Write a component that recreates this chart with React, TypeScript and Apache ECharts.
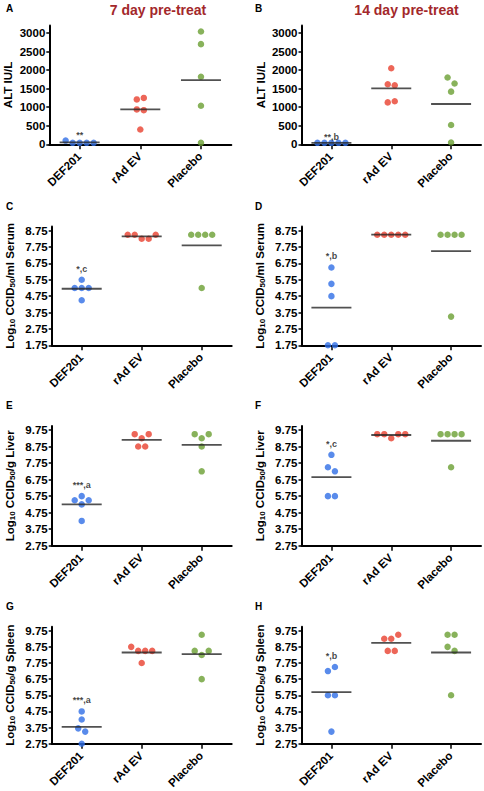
import React, { useEffect, useRef } from "react";
import * as echarts from "echarts";

const categories = ["DEF201", "rAd EV", "Placebo"];
const panelLetters = ["A", "B", "C", "D", "E", "F", "G", "H"];
const columnTitles = ["7 day pre-treat", "14 day pre-treat"];
const annotations = ["**", "**,b", "*,c", "*,b", "***,a", "*,c", "***,a", "*,b"];

const altTicks = [0, 500, 1000, 1500, 2000, 2500, 3000];
const serumTicks = [1.75, 2.75, 3.75, 4.75, 5.75, 6.75, 7.75, 8.75];
const organTicks = [2.75, 3.75, 4.75, 5.75, 6.75, 7.75, 8.75, 9.75];

// values per group: [DEF201, rAd EV, Placebo]
const altDay7 = [[100, 40, 40, 40, 40], [1210, 1250, 940, 920, 400], [3040, 2700, 1820, 1040, 40]];
const altDay14 = [[40, 40, 40, 40, 40], [2050, 1620, 1590, 1130, 1160], [1800, 1640, 1420, 520, 50]];
const serumDay7 = [[5.75, 5.25, 5.25, 5.25, 4.5], [8.5, 8.5, 8.25, 8.25, 8.5], [8.5, 8.5, 8.5, 8.5, 5.25]];
const serumDay14 = [[6.5, 5.5, 4.75, 1.75, 1.75], [8.5, 8.5, 8.5, 8.5, 8.5], [8.5, 8.5, 8.5, 8.5, 3.5]];
const liverDay7 = [[5.5, 5.75, 5.5, 5.25, 4.25], [9.5, 9.25, 9.5, 8.75, 8.75], [9.5, 9.25, 9.5, 8.75, 7.25]];
const liverDay14 = [[8.25, 7.5, 7.25, 5.75, 5.75], [9.5, 9.5, 9.25, 9.5, 9.5], [9.5, 9.5, 9.5, 9.5, 7.5]];
const spleenDay7 = [[4.75, 4.25, 3.7, 3.5, 2.75], [8.75, 8.5, 8.5, 8.5, 7.75], [9.5, 8.5, 8.25, 8.5, 6.75]];
const spleenDay14 = [[7.25, 7.5, 5.75, 5.75, 3.5], [9.25, 9.25, 9.5, 8.5, 8.5], [9.5, 9.5, 8.75, 8.5, 5.75]];

const groupColors = ["#2f6ee6", "#e8402e", "#6a9f32"];
const FONT = "'Liberation Sans', Arial, Helvetica, sans-serif";

const serumName = "{n|Log}{s|10}{n| CCID}{s|50}{n|/ml Serum}";
const liverName = "{n|Log}{s|10}{n| CCID}{s|50}{n|/g Liver}";
const spleenName = "{n|Log}{s|10}{n| CCID}{s|50}{n|/g Spleen}";
const altName = "{n|ALT IU/L}";

const colLeft = [51.7, 301.5];
const colWidth = [180, 179.5];
const rowTop = [25.6, 226.5, 425.9, 626.7];
const rowHeight = [118.7, 118.8, 119.8, 117];

const panels = [
  { data: altDay7, ticks: altTicks, min: 0, max: 3200, name: altName, gap: 34, dec: 0, annDist: 1, left: 49.3, width: 182 },
  { data: altDay14, ticks: altTicks, min: 0, max: 3200, name: altName, gap: 34, dec: 0, annDist: 1 },
  { data: serumDay7, ticks: serumTicks, min: 1.75, max: 9, name: serumName, gap: 35, dec: 2, annDist: 6 },
  { data: serumDay14, ticks: serumTicks, min: 1.75, max: 9, name: serumName, gap: 35, dec: 2, annDist: 6 },
  { data: liverDay7, ticks: organTicks, min: 2.75, max: 10, name: liverName, gap: 35, dec: 2, annDist: 6 },
  { data: liverDay14, ticks: organTicks, min: 2.75, max: 10, name: liverName, gap: 35, dec: 2, annDist: 6 },
  { data: spleenDay7, ticks: organTicks, min: 2.75, max: 10, name: spleenName, gap: 35, dec: 2, annDist: 6 },
  { data: spleenDay14, ticks: organTicks, min: 2.75, max: 10, name: spleenName, gap: 35, dec: 2, annDist: 6 },
] as any[];

function swarmOffsets(values: number[], pxPerUnit: number, step = 7, thr = 6.5) {
  const idx = values.map((_, i) => i).sort((a, b) => values[b] - values[a]);
  const rows: number[][] = [];
  let cur: number[] = [];
  let start = -1;
  for (const i of idx) {
    if (cur.length && (values[start] - values[i]) * pxPerUnit < thr) cur.push(i);
    else {
      if (cur.length) rows.push(cur);
      cur = [i];
      start = i;
    }
  }
  if (cur.length) rows.push(cur);
  const off = new Array(values.length).fill(0);
  rows.forEach((r) => {
    const s = [...r].sort((a, b) => a - b);
    s.forEach((i, k) => (off[i] = (k - (s.length - 1) / 2) * step));
  });
  return off;
}

const mean = (a: number[]) => a.reduce((s, v) => s + v, 0) / a.length;

function buildOption() {
  const grid: any[] = [];
  const xAxis: any[] = [];
  const yAxis: any[] = [];
  const series: any[] = [];
  const graphic: any[] = [];

  panels.forEach((p, pi) => {
    const col = pi % 2;
    const row = Math.floor(pi / 2);
    const h = rowHeight[row];
    grid.push({
      left: p.left ?? colLeft[col],
      top: rowTop[row],
      width: p.width ?? colWidth[col],
      height: h,
      containLabel: false,
    });
    xAxis.push({
      type: "category",
      gridIndex: pi,
      data: categories,
      boundaryGap: true,
      axisLine: { show: true, lineStyle: { color: "#000", width: 2 } },
      axisTick: { show: true, alignWithLabel: true, length: 5, lineStyle: { color: "#000", width: 1.5 } },
      axisLabel: { show: false },
      splitLine: { show: false },
    });
    yAxis.push({
      type: "value",
      gridIndex: pi,
      min: p.min,
      max: p.max,
      name: p.name,
      nameLocation: "middle",
      nameRotate: 90,
      nameGap: p.gap,
      nameTextStyle: {
        color: "#000",
        fontFamily: FONT,
        fontWeight: "bold",
        fontSize: 11,
        rich: {
          n: { fontSize: 11.5, fontWeight: "bold", fontFamily: FONT, color: "#000", lineHeight: 13, verticalAlign: "top" },
          s: {
            fontSize: 8,
            fontWeight: "bold",
            fontFamily: FONT,
            color: "#000",
            lineHeight: 8,
            padding: [5, 0, 0, 0],
            verticalAlign: "top",
          },
        },
      },
      axisLine: { show: true, lineStyle: { color: "#000", width: 2 } },
      axisTick: { show: true, length: 3, customValues: p.ticks, lineStyle: { color: "#000", width: 1.5 } },
      axisLabel: {
        customValues: p.ticks,
        margin: 4,
        color: "#000",
        fontSize: 11.5,
        fontWeight: "bold",
        fontFamily: FONT,
        formatter: (v: number) => v.toFixed(p.dec),
      },
      splitLine: { show: false },
    });

    const pxPerUnit = h / (p.max - p.min);
    const points: any[] = [];
    p.data.forEach((vals: number[], ci: number) => {
      const offs = swarmOffsets(vals, pxPerUnit);
      vals.forEach((v, k) => {
        points.push({
          value: [ci, v],
          symbolOffset: [offs[k], 0],
          itemStyle: { color: groupColors[ci] },
        });
      });
    });
    series.push({
      type: "scatter",
      xAxisIndex: pi,
      yAxisIndex: pi,
      symbol: "circle",
      symbolSize: 6.5,
      data: points,
      z: 2,
      silent: true,
    });
    series.push({
      type: "scatter",
      xAxisIndex: pi,
      yAxisIndex: pi,
      symbol: "rect",
      symbolSize: [40, 1.8],
      itemStyle: { color: "#262626" },
      data: p.data.map((vals: number[], ci: number) => [ci, mean(vals)]),
      z: 3,
      silent: true,
    });
    series.push({
      type: "scatter",
      xAxisIndex: pi,
      yAxisIndex: pi,
      symbol: "circle",
      symbolSize: 1,
      itemStyle: { color: "rgba(0,0,0,0)" },
      data: [[0, Math.max(...p.data[0])]],
      label: {
        show: true,
        position: "top",
        distance: p.annDist,
        formatter: annotations[pi],
        color: "#111",
        fontSize: 9,
        fontWeight: "bold",
        fontFamily: FONT,
      },
      z: 4,
      silent: true,
    });

    graphic.push({
      type: "text",
      x: col === 0 ? 6 : 255,
      y: rowTop[row] - (row === 0 ? 22 : 25),
      style: { text: panelLetters[pi], fontSize: 10, fontWeight: "bold", fontFamily: FONT, fill: "#000" },
    });
  });

  columnTitles.forEach((t, i) => {
    graphic.push({
      type: "text",
      x: i === 0 ? 158 : 406.5,
      y: 10,
      style: {
        text: t,
        align: "center",
        verticalAlign: "middle",
        fontSize: 14,
        fontWeight: "bold",
        fontFamily: FONT,
        fill: "#a3282b",
      },
    });
  });

  return {
    animation: false,
    backgroundColor: "#fff",
    grid,
    xAxis,
    yAxis,
    series,
    graphic,
  };
}

export default function App() {
  const ref = useRef<HTMLDivElement>(null);
  useEffect(() => {
    document.body.style.margin = "0";
    if (!ref.current) return;
    const chart = echarts.init(ref.current, undefined, { renderer: "svg" });
    const option: any = buildOption();
    chart.setOption(option);
    // rotated category labels, placed at the ticks the library computed
    const labels: any[] = [];
    panels.forEach((p, pi) => {
      categories.forEach((c, ci) => {
        const pt = chart.convertToPixel({ xAxisIndex: pi, yAxisIndex: pi } as any, [ci, p.min]) as number[];
        if (!pt) return;
        labels.push({
          type: "text",
          x: pt[0] - 0.5,
          y: pt[1] + 10,
          rotation: Math.PI / 4,
          style: {
            text: c,
            align: "right",
            verticalAlign: "middle",
            fontSize: 11.5,
            fontWeight: "bold",
            fontFamily: FONT,
            fill: "#000",
          },
        });
      });
    });
    chart.setOption({ graphic: [...option.graphic, ...labels] });
    return () => chart.dispose();
  }, []);
  return <div ref={ref} style={{ width: 484, height: 791 }} />;
}
